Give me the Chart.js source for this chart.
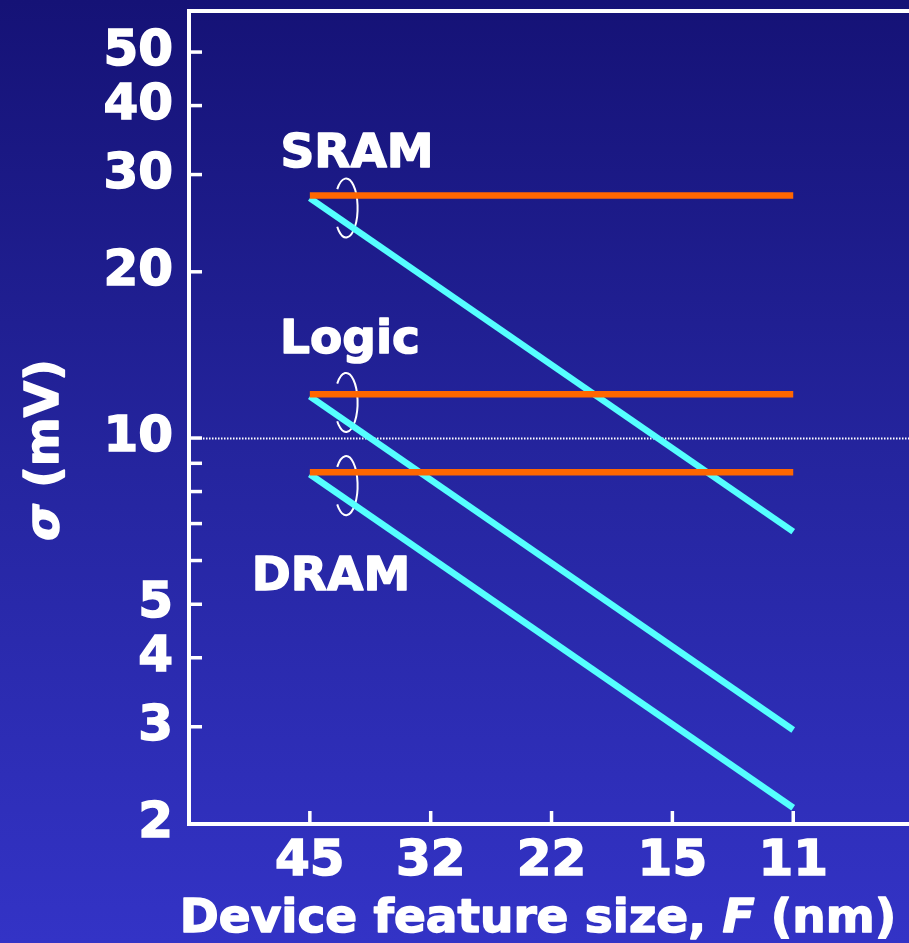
<!DOCTYPE html>
<html>
<head>
<meta charset="utf-8">
<script src="https://cdn.jsdelivr.net/npm/chart.js@4/dist/chart.umd.min.js"></script>
<style>
html, body { margin: 0; padding: 0; background: #22229a; }
canvas { display: block; }
</style>
</head>
<body>
<canvas id="myChart" width="909" height="943"></canvas>
<script>
const featureSizes = [45, 32, 22, 15, 11];
const yTickValues = [2, 3, 4, 5, 6, 7, 8, 9, 10, 20, 30, 40, 50];
const yTickLabels = [2, 3, 4, 5, 10, 20, 30, 40, 50];
const endNodes = [45, 11];
const sramFixed = [27.5, 27.5];
const sramScaled = [27.2, 6.77];
const logicFixed = [12.0, 12.0];
const logicScaled = [11.9, 2.96];
const dramFixed = [8.67, 8.67];
const dramScaled = [8.6, 2.14];
const refLevel = 10;

const orange = "#ff6600";
const cyan = "#55ffff";
const bold47 = 'bold 47px "DejaVu Sans"';

function pts(vals) {
    return endNodes.map((f, i) => ({ x: featureSizes.indexOf(f), y: vals[i] }));
}

function line(vals, color) {
    return {
        data: pts(vals),
        borderColor: color,
        borderWidth: 6.5,
        borderCapStyle: "butt",
        pointRadius: 0,
        fill: false,
        tension: 0
    };
}

function noPad(s) {
    s.paddingTop = 0;
    s.paddingBottom = 0;
    s.paddingLeft = 0;
    s.paddingRight = 0;
}

// draws heavier white text (fill plus thin stroke)
function heavyText(ctx, txt, x, y) {
    ctx.fillText(txt, x, y);
    ctx.strokeText(txt, x, y);
}

// background, frame, inward ticks, brackets, group names and titles
const decor = {
    id: "decor",
    beforeDraw(chart) {
        const { ctx, width, height } = chart;
        const g = ctx.createLinearGradient(0, 0, 0, height);
        g.addColorStop(0, "#151276");
        g.addColorStop(0.5, "#25259f");
        g.addColorStop(1, "#3333c6");
        ctx.save();
        ctx.fillStyle = g;
        ctx.fillRect(0, 0, width, height);
        ctx.restore();
    },
    beforeDatasetsDraw(chart) {
        const { ctx, chartArea: a } = chart;
        const xs = chart.scales.x, ys = chart.scales.y;
        ctx.save();
        // dotted line at 10 mV
        const yr = Math.round(ys.getPixelForValue(refLevel)) + 0.5;
        ctx.strokeStyle = "#ffffff";
        ctx.lineWidth = 2;
        ctx.setLineDash([1.5, 1.5]);
        ctx.beginPath();
        ctx.moveTo(a.left + 14, yr);
        ctx.lineTo(a.right, yr);
        ctx.stroke();
        ctx.setLineDash([]);
        // brackets tying each pair
        ctx.lineWidth = 2;
        [26.1, 11.6, 8.2].forEach(v => {
            const cx = xs.getPixelForValue(0.3);
            const cy = ys.getPixelForValue(v);
            ctx.beginPath();
            ctx.ellipse(cx, cy, 11.5, 29.5, 0, -Math.PI * 0.78, Math.PI * 0.78);
            ctx.stroke();
        });
        ctx.restore();
    },
    afterDraw(chart) {
        const { ctx, chartArea: a } = chart;
        const xs = chart.scales.x, ys = chart.scales.y;
        ctx.save();
        ctx.strokeStyle = "#ffffff";
        ctx.fillStyle = "#ffffff";
        // frame
        ctx.lineWidth = 4;
        ctx.beginPath();
        ctx.moveTo(a.right + 5, a.top);
        ctx.lineTo(a.left, a.top);
        ctx.lineTo(a.left, a.bottom);
        ctx.lineTo(a.right + 5, a.bottom);
        ctx.stroke();
        // ticks pointing inward
        ctx.lineWidth = 3.5;
        ys.ticks.forEach(t => {
            const y = ys.getPixelForValue(t.value);
            ctx.beginPath();
            ctx.moveTo(a.left, y);
            ctx.lineTo(a.left + 13, y);
            ctx.stroke();
        });
        xs.ticks.forEach(t => {
            const x = xs.getPixelForValue(t.value);
            ctx.beginPath();
            ctx.moveTo(x, a.bottom);
            ctx.lineTo(x, a.bottom - 13);
            ctx.stroke();
        });
        // group names
        ctx.lineWidth = 1.5;
        ctx.lineJoin = "round";
        ctx.font = bold47;
        ctx.textAlign = "center";
        ctx.textBaseline = "alphabetic";
        heavyText(ctx, "SRAM", 357, 167);
        heavyText(ctx, "Logic", 350, 353);
        heavyText(ctx, "DRAM", 331, 590);
        // x title with italic F
        const parts = [
            ["Device feature size, ", bold47],
            ["F", 'italic bold 47px "DejaVu Sans"'],
            [" (nm)", bold47]
        ];
        let total = 0;
        parts.forEach(p => { ctx.font = p[1]; total += ctx.measureText(p[0]).width; });
        let x = 538 - total / 2;
        ctx.textAlign = "left";
        parts.forEach(p => {
            ctx.font = p[1];
            heavyText(ctx, p[0], x, 932);
            x += ctx.measureText(p[0]).width;
        });
        // y title with italic sigma
        ctx.translate(58, 450);
        ctx.rotate(-Math.PI / 2);
        const yparts = [
            ["σ", 'italic bold 47px "DejaVu Sans"'],
            [" (mV)", bold47]
        ];
        total = 0;
        yparts.forEach(p => { ctx.font = p[1]; total += ctx.measureText(p[0]).width; });
        x = -total / 2;
        yparts.forEach(p => {
            ctx.font = p[1];
            heavyText(ctx, p[0], x, 0);
            x += ctx.measureText(p[0]).width;
        });
        ctx.restore();
    }
};

const config = {
    type: "line",
    data: {
        datasets: [
            line(sramFixed, orange),
            line(logicFixed, orange),
            line(dramFixed, orange),
            line(sramScaled, cyan),
            line(logicScaled, cyan),
            line(dramScaled, cyan)
        ]
    },
    options: {
        responsive: false,
        animation: false,
        layout: { padding: { top: 11, left: 0, right: 0, bottom: 0 } },
        plugins: {
            legend: { display: false },
            tooltip: { enabled: false }
        },
        scales: {
            x: {
                type: "linear",
                min: -1,
                max: 4.958,
                grid: { display: false },
                border: { display: false },
                afterBuildTicks: s => { s.ticks = featureSizes.map((f, i) => ({ value: i })); },
                afterFit: s => { s.height = 119; noPad(s); },
                ticks: {
                    autoSkip: false,
                    maxRotation: 0,
                    padding: 0,
                    color: "#ffffff",
                    textStrokeColor: "#ffffff",
                    textStrokeWidth: 1.5,
                    font: { family: "DejaVu Sans", size: 50, weight: "bold" },
                    callback: v => featureSizes[v]
                }
            },
            y: {
                type: "logarithmic",
                min: 2,
                max: 59.34,
                grid: { display: false },
                border: { display: false },
                afterBuildTicks: s => { s.ticks = yTickValues.map(v => ({ value: v })); },
                afterFit: s => { s.width = 189; noPad(s); },
                ticks: {
                    autoSkip: false,
                    padding: 8,
                    color: "#ffffff",
                    textStrokeColor: "#ffffff",
                    textStrokeWidth: 1.5,
                    font: { family: "DejaVu Sans", size: 50, weight: "bold" },
                    callback: v => yTickLabels.includes(v) ? String(v) : ""
                }
            }
        }
    },
    plugins: [decor]
};

new Chart("myChart", config);
</script>
</body>
</html>
